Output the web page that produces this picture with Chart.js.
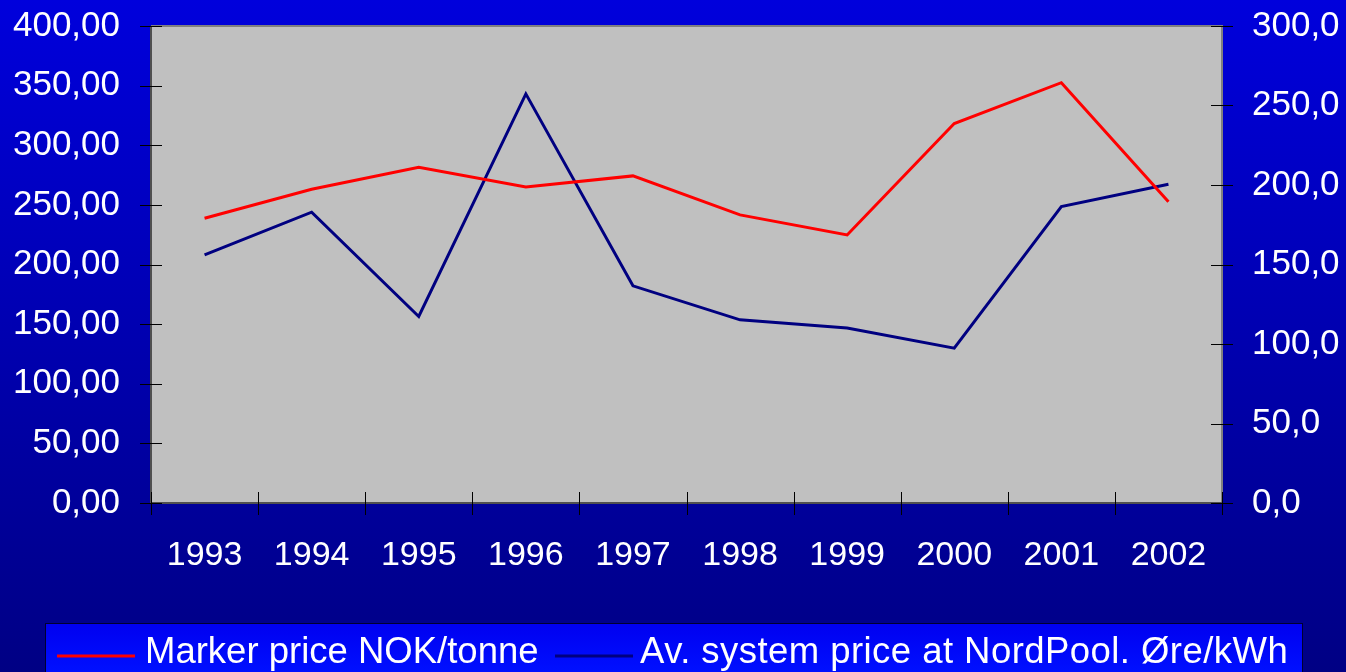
<!DOCTYPE html>
<html>
<head>
<meta charset="utf-8">
<script src="https://cdn.jsdelivr.net/npm/chart.js@4"></script>
<style>
  html, body { margin: 0; padding: 0; }
  body { width: 1346px; height: 672px; overflow: hidden; background: linear-gradient(#0000dc, #000084); }
  canvas { display: block; }
</style>
</head>
<body>
<canvas id="priceChart" width="1346" height="672"></canvas>
<script>
const years = ["1993", "1994", "1995", "1996", "1997", "1998", "1999", "2000", "2001", "2002"];
const markerPrice = [238.8, 263.1, 281.6, 265.1, 274.3, 241.6, 224.8, 318.2, 352.5, 252.7];
const systemPrice = [156.1, 182.9, 117.3, 257.3, 136.6, 115.2, 110.0, 97.4, 186.4, 200.5];
const seriesLabels = ["Marker price NOK/tonne", "Av. system price at NordPool. Øre/kWh"];

const fontFamily = "'Liberation Sans', Arial, sans-serif";

// grey plot area behind the lines
const plotBackground = {
  id: "plotBackground",
  beforeDatasetsDraw(chart) {
    const { ctx, chartArea: a } = chart;
    ctx.save();
    ctx.fillStyle = "#c0c0c0";
    ctx.fillRect(a.left, a.top, a.right - a.left, a.bottom - a.top);
    ctx.restore();
  },
  afterDatasetsDraw(chart) {
    const { ctx, chartArea: a, scales } = chart;
    ctx.save();
    // frame
    ctx.strokeStyle = "#808080";
    ctx.lineWidth = 2;
    ctx.beginPath();
    ctx.moveTo(a.left, a.top);
    ctx.lineTo(a.right, a.top);
    ctx.lineTo(a.right, a.bottom);
    ctx.stroke();
    ctx.strokeStyle = "#505050";
    ctx.beginPath();
    ctx.moveTo(a.left, a.top);
    ctx.lineTo(a.left, a.bottom);
    ctx.lineTo(a.right, a.bottom);
    ctx.stroke();

    // tick marks crossing the axes
    ctx.strokeStyle = "#000000";
    ctx.lineWidth = 1;
    ctx.beginPath();
    scales.y.ticks.forEach((t, i) => {
      const y = Math.round(scales.y.getPixelForTick(i)) + 0.5;
      ctx.moveTo(a.left - 11, y);
      ctx.lineTo(a.left + 11, y);
    });
    scales.y1.ticks.forEach((t, i) => {
      const y = Math.round(scales.y1.getPixelForTick(i)) + 0.5;
      ctx.moveTo(a.right - 11, y);
      ctx.lineTo(a.right + 11, y);
    });
    const x = scales.x;
    for (let i = 0; i <= years.length; i++) {
      let px;
      if (i === 0) px = a.left;
      else if (i === years.length) px = a.right;
      else px = (x.getPixelForValue(i - 1) + x.getPixelForValue(i)) / 2;
      px = Math.round(px) + 0.5;
      ctx.moveTo(px, a.bottom - 11);
      ctx.lineTo(px, a.bottom + 12);
    }
    ctx.stroke();
    ctx.restore();
  }
};

// boxed legend at the bottom
const boxLegend = {
  id: "boxLegend",
  afterDraw(chart) {
    const { ctx } = chart;
    ctx.save();
    const g = ctx.createLinearGradient(0, 623, 0, 672);
    g.addColorStop(0, "#0000f0");
    g.addColorStop(1, "#0010ff");
    ctx.fillStyle = g;
    ctx.fillRect(45, 623, 1257, 52);
    ctx.strokeStyle = "#000030";
    ctx.lineWidth = 1;
    ctx.strokeRect(45.5, 623.5, 1257, 52);

    ctx.font = "36.5px " + fontFamily;
    ctx.fillStyle = "#ffffff";
    ctx.textBaseline = "alphabetic";
    const items = [
      { x: 57, textX: 145, spacing: "0px" },
      { x: 555, textX: 640, spacing: "0.45px" }
    ];
    chart.data.datasets.forEach((ds, i) => {
      const it = items[i];
      ctx.strokeStyle = ds.borderColor;
      ctx.lineWidth = 3;
      ctx.beginPath();
      ctx.moveTo(it.x, 656);
      ctx.lineTo(it.x + 78, 656);
      ctx.stroke();
      ctx.letterSpacing = it.spacing;
      ctx.fillText(ds.label, it.textX, 663);
    });
    ctx.restore();
  }
};

function noPad(scale) {
  scale.paddingTop = 0;
  scale.paddingBottom = 0;
}

new Chart(document.getElementById("priceChart"), {
  type: "line",
  data: {
    labels: years,
    datasets: [
      {
        label: seriesLabels[0],
        data: markerPrice,
        borderColor: "#ff0000",
        borderWidth: 3,
        pointRadius: 0,
        tension: 0,
        yAxisID: "y"
      },
      {
        label: seriesLabels[1],
        data: systemPrice,
        borderColor: "#000080",
        borderWidth: 3,
        pointRadius: 0,
        tension: 0,
        yAxisID: "y1"
      }
    ]
  },
  options: {
    responsive: false,
    animation: false,
    layout: { padding: { top: 26, left: 0, right: 0, bottom: 0 } },
    plugins: {
      legend: { display: false },
      tooltip: { enabled: false }
    },
    scales: {
      x: {
        offset: true,
        grid: { display: false, drawTicks: false },
        border: { display: false },
        ticks: {
          color: "#ffffff",
          font: { family: fontFamily, size: 34 },
          padding: 32,
          maxRotation: 0
        },
        afterFit(scale) { scale.height = 169; }
      },
      y: {
        position: "left",
        min: 0,
        max: 400,
        grid: { display: false, drawTicks: false },
        border: { display: false },
        ticks: {
          stepSize: 50,
          color: "#ffffff",
          font: { family: fontFamily, size: 35 },
          padding: 31,
          callback: (v) => v.toFixed(2).replace(".", ",")
        },
        afterFit(scale) { scale.width = 151; noPad(scale); }
      },
      y1: {
        position: "right",
        min: 0,
        max: 300,
        grid: { display: false, drawTicks: false },
        border: { display: false },
        ticks: {
          stepSize: 50,
          color: "#ffffff",
          font: { family: fontFamily, size: 35 },
          padding: 30,
          callback: (v) => v.toFixed(1).replace(".", ",")
        },
        afterFit(scale) { scale.width = 124; noPad(scale); }
      }
    }
  },
  plugins: [plotBackground, boxLegend]
});
</script>
</body>
</html>
